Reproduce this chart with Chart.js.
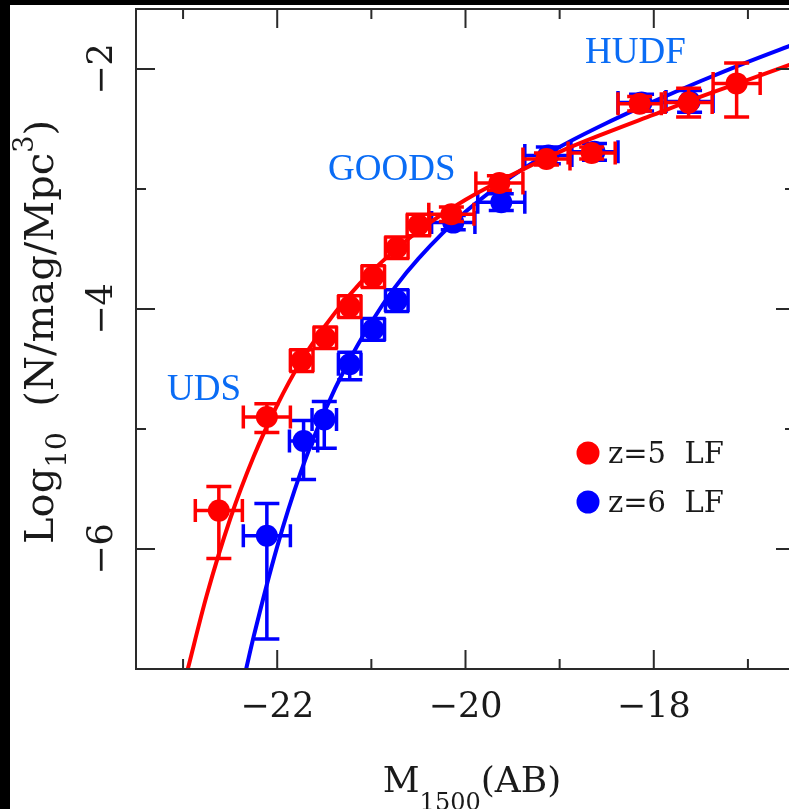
<!DOCTYPE html>
<html>
<head>
<meta charset="utf-8">
<script src="https://cdn.jsdelivr.net/npm/chart.js@4/dist/chart.umd.min.js"></script>
<style>
  html, body { margin: 0; padding: 0; background: #000; overflow: hidden; width: 789px; height: 809px; }
  #wrap { position: absolute; left: 10px; top: 5px; width: 790px; height: 804px; background: #fff; }
  canvas { display: block; }
</style>
</head>
<body>
<div id="wrap"><canvas id="lf" width="790" height="804"></canvas></div>
<script>
// Axis tick labels
const xTickLabels = [-22, -20, -18];
const yTickLabels = [-2, -4, -6];

// z=5 luminosity function: M1500, log10(phi), errors
const z5Mag      = [-22.62, -22.11, -21.74, -21.49, -21.23, -20.98, -20.73, -20.50, -20.15, -19.64, -19.14, -18.66, -18.15, -17.63, -17.12];
const z5LogPhi   = [-5.68, -4.90, -4.43, -4.24, -3.98, -3.73, -3.49, -3.30, -3.21, -2.95, -2.75, -2.70, -2.29, -2.28, -2.12];
const z5MagErr   = [0.25, 0.25, 0.12, 0.12, 0.12, 0.12, 0.12, 0.12, 0.24, 0.25, 0.25, 0.25, 0.23, 0.25, 0.25];
const z5ErrUp    = [0.20, 0.11, 0.09, 0.09, 0.09, 0.09, 0.09, 0.09, 0.06, 0.06, 0.05, 0.05, 0.06, 0.12, 0.17];
const z5ErrDown  = [0.40, 0.13, 0.09, 0.09, 0.09, 0.09, 0.09, 0.09, 0.06, 0.06, 0.05, 0.05, 0.06, 0.12, 0.28];

// z=6 luminosity function
const z6Mag      = [-22.11, -21.72, -21.50, -21.23, -20.98, -20.73, -20.13, -19.62, -19.12, -18.63, -18.13, -17.62];
const z6LogPhi   = [-5.89, -5.10, -4.92, -4.46, -4.17, -3.93, -3.28, -3.11, -2.72, -2.69, -2.28, -2.27];
const z6MagErr   = [0.25, 0.15, 0.13, 0.12, 0.12, 0.12, 0.23, 0.25, 0.25, 0.25, 0.25, 0.25];
const z6ErrUp    = [0.27, 0.17, 0.15, 0.10, 0.09, 0.09, 0.06, 0.07, 0.07, 0.07, 0.07, 0.09];
const z6ErrDown  = [0.86, 0.32, 0.24, 0.13, 0.09, 0.09, 0.06, 0.07, 0.07, 0.07, 0.07, 0.09];

// Schechter fit curves
const z5FitMag = [-22.95, -22.75, -22.5, -22.25, -22.0, -21.75, -21.5, -21.25, -21.0, -20.5, -20.0, -19.5, -19.0, -18.5, -18.0, -17.5, -17.0, -16.5];
const z5FitPhi = [-7.00, -6.39, -5.75, -5.23, -4.80, -4.44, -4.15, -3.90, -3.69, -3.35, -3.09, -2.88, -2.69, -2.53, -2.38, -2.23, -2.09, -1.95];
const z6FitMag = [-22.33, -22.25, -22.0, -21.75, -21.5, -21.25, -21.0, -20.75, -20.5, -20.0, -19.5, -19.0, -18.5, -18.0, -17.5, -17.0, -16.5];
const z6FitPhi = [-7.00, -6.73, -5.98, -5.36, -4.86, -4.45, -4.11, -3.82, -3.58, -3.19, -2.89, -2.65, -2.45, -2.27, -2.10, -1.94, -1.79];

const RED = '#ff0000';
const BLUE = '#0000ff';
const SURVEY_BLUE = '#0a6cf5';
const INK = '#1a1a1a';
const SERIF = '"DejaVu Serif", serif';
const TIMES = '"Liberation Serif", "Times New Roman", serif';

const toPts = (xs, ys) => xs.map((x, i) => ({ x: x, y: ys[i] }));

// error bars drawn under each scatter dataset via the chart scales
const errorBars = {
  id: 'errorBars',
  beforeDatasetDraw(chart, args) {
    const ds = chart.data.datasets[args.index];
    if (!ds.err) return;
    const { ctx, scales: { x, y } } = chart;
    const e = ds.err;
    ctx.save();
    ctx.strokeStyle = ds.backgroundColor;
    ctx.lineWidth = 3.5;
    ctx.lineCap = 'butt';
    const capX = 11.5, capY = 12.5;
    ds.data.forEach((p, i) => {
      const px = x.getPixelForValue(p.x), py = y.getPixelForValue(p.y);
      const xl = x.getPixelForValue(p.x - e.mag[i]);
      const xr = x.getPixelForValue(p.x + e.mag[i]);
      const yt = y.getPixelForValue(p.y + e.up[i]);
      const yb = y.getPixelForValue(p.y - e.down[i]);
      ctx.beginPath();
      ctx.moveTo(xl, py); ctx.lineTo(xr, py);
      ctx.moveTo(xl, py - capX); ctx.lineTo(xl, py + capX);
      ctx.moveTo(xr, py - capX); ctx.lineTo(xr, py + capX);
      ctx.moveTo(px, yt); ctx.lineTo(px, yb);
      ctx.moveTo(px - capY, yt); ctx.lineTo(px + capY, yt);
      ctx.moveTo(px - capY, yb); ctx.lineTo(px + capY, yb);
      ctx.stroke();
    });
    ctx.restore();
  }
};

// draws a run of text pieces (normal / sub / superscript) along the baseline
function drawRich(ctx, pieces, centerX) {
  let total = 0;
  pieces.forEach(p => { ctx.font = p.size + 'px ' + p.font; p.w = ctx.measureText(p.t).width; total += p.w; });
  let cx = centerX - total / 2;
  pieces.forEach(p => {
    ctx.font = p.size + 'px ' + p.font;
    ctx.fillText(p.t, cx, p.dy || 0);
    cx += p.w;
  });
}

// frame, inward ticks, labels, titles, legend and survey names
const frame = {
  id: 'frame',
  afterDraw(chart) {
    const { ctx, chartArea: a, scales: { x, y } } = chart;
    ctx.save();
    ctx.strokeStyle = '#2a2a2a';
    ctx.lineWidth = 2;
    ctx.strokeRect(a.left, a.top, a.right - a.left, a.bottom - a.top);

    const major = 19, minor = 10;
    ctx.beginPath();
    for (let v = Math.ceil(x.min); v <= Math.floor(x.max); v++) {
      const px = x.getPixelForValue(v);
      const len = v % 2 === 0 ? major : minor;
      ctx.moveTo(px, a.bottom); ctx.lineTo(px, a.bottom - len);
      ctx.moveTo(px, a.top); ctx.lineTo(px, a.top + len);
    }
    for (let v = Math.ceil(y.min) + 1; v <= Math.floor(y.max); v++) {
      const py = y.getPixelForValue(v);
      const len = v % 2 === 0 ? major : minor;
      ctx.moveTo(a.left, py); ctx.lineTo(a.left + len, py);
      ctx.moveTo(a.right, py); ctx.lineTo(a.right - len, py);
    }
    ctx.stroke();

    ctx.fillStyle = INK;
    ctx.font = '35px ' + SERIF;
    ctx.textBaseline = 'alphabetic';
    ctx.textAlign = 'center';
    xTickLabels.forEach(v => {
      ctx.fillText('\u2212' + Math.abs(v), x.getPixelForValue(v), 712);
    });
    yTickLabels.forEach(v => {
      ctx.save();
      ctx.translate(102, y.getPixelForValue(v));
      ctx.rotate(-Math.PI / 2);
      ctx.fillText('\u2212' + Math.abs(v), 0, 0);
      ctx.restore();
    });

    // x-axis title
    ctx.textAlign = 'left';
    ctx.save();
    ctx.translate(0, 787);
    drawRich(ctx, [
      { t: 'M', size: 36, font: SERIF },
      { t: '1500', size: 24, font: SERIF, dy: 18 },
      { t: '(AB)', size: 36, font: SERIF }
    ], 462);
    ctx.restore();

    // y-axis title
    ctx.save();
    ctx.translate(43, 327);
    ctx.rotate(-Math.PI / 2);
    drawRich(ctx, [
      { t: 'Log', size: 40, font: SERIF },
      { t: '10', size: 28, font: SERIF, dy: 13 },
      { t: '  (N/mag/Mpc', size: 40, font: SERIF },
      { t: '3', size: 27, font: SERIF, dy: -20 },
      { t: ')', size: 40, font: SERIF }
    ], 0);
    ctx.restore();

    // survey names
    ctx.fillStyle = SURVEY_BLUE;
    ctx.font = '37px ' + TIMES;
    ctx.fillText('UDS', 157, 395);
    ctx.fillText('GOODS', 318, 175);
    ctx.fillText('HUDF', 575, 58);

    // legend
    const items = chart.data.datasets.filter(d => d.legendText);
    items.forEach((d, i) => {
      const cy = 448 + i * 49;
      ctx.fillStyle = d.backgroundColor;
      ctx.beginPath();
      ctx.arc(578, cy, 11.5, 0, Math.PI * 2);
      ctx.fill();
      ctx.fillStyle = INK;
      ctx.font = '29px ' + SERIF;
      ctx.fillText(d.legendText, 598, cy + 10);
    });
    ctx.restore();
  }
};

new Chart(document.getElementById('lf'), {
  type: 'scatter',
  data: {
    datasets: [
      {
        label: 'z=5', legendText: 'z=5  LF', order: 0,
        data: toPts(z5Mag, z5LogPhi),
        err: { mag: z5MagErr, up: z5ErrUp, down: z5ErrDown },
        backgroundColor: RED, borderWidth: 0, pointRadius: 11
      },
      {
        label: 'z=5 fit', type: 'line', order: 1,
        data: toPts(z5FitMag, z5FitPhi),
        borderColor: RED, borderWidth: 4, pointRadius: 0, fill: false,
        cubicInterpolationMode: 'monotone'
      },
      {
        label: 'z=6 fit', type: 'line', order: 2,
        data: toPts(z6FitMag, z6FitPhi),
        borderColor: BLUE, borderWidth: 4, pointRadius: 0, fill: false,
        cubicInterpolationMode: 'monotone'
      },
      {
        label: 'z=6', legendText: 'z=6  LF', order: 3,
        data: toPts(z6Mag, z6LogPhi),
        err: { mag: z6MagErr, up: z6ErrUp, down: z6ErrDown },
        backgroundColor: BLUE, borderWidth: 0, pointRadius: 11
      }
    ]
  },
  options: {
    responsive: false,
    animation: false,
    devicePixelRatio: 1,
    layout: { autoPadding: false, padding: { left: 126, top: 4, right: 5, bottom: 140 } },
    plugins: { legend: { display: false }, tooltip: { enabled: false } },
    scales: {
      x: { type: 'linear', min: -23.5, max: -16.5, display: false },
      y: { type: 'linear', min: -7, max: -1.5, display: false }
    }
  },
  plugins: [errorBars, frame]
});
</script>
</body>
</html>
